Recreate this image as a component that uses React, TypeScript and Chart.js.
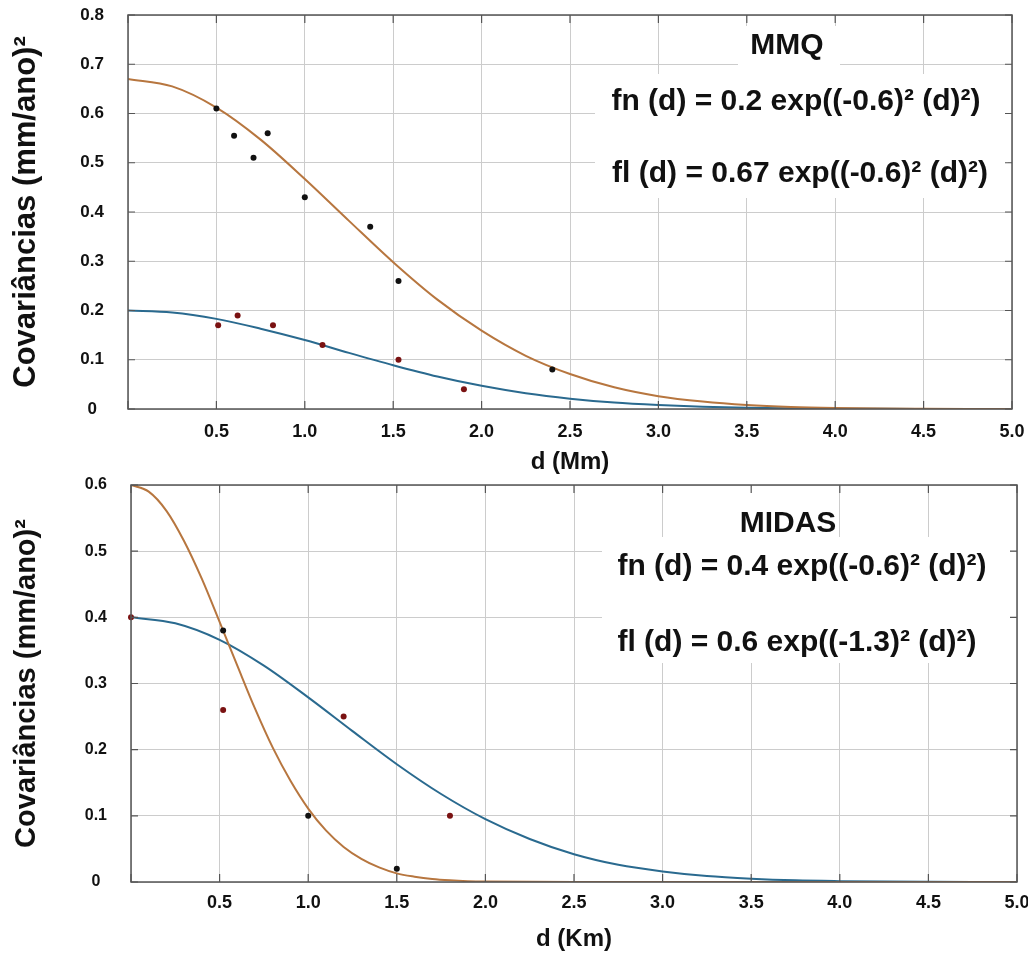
import React, { useEffect, useRef } from 'react';
import { Chart, registerables } from 'chart.js';

Chart.register(...registerables);

const FONT = '"Liberation Sans", Arial, Helvetica, sans-serif';

// ---------- MMQ (top) ----------
const mmqCurveD = [0, 0.25, 0.5, 0.75, 1.0, 1.25, 1.5, 1.75, 2.0, 2.25, 2.5, 2.75, 3.0, 3.25, 3.5, 3.75, 4.0, 4.25, 4.5, 4.75, 5.0];
const mmqFl = [0.670, 0.655, 0.612, 0.547, 0.467, 0.382, 0.298, 0.222, 0.159, 0.108, 0.071, 0.044, 0.026, 0.015, 0.008, 0.004, 0.002, 0.001, 0.0005, 0.0002, 0.0001];
const mmqFn = [0.200, 0.196, 0.183, 0.163, 0.140, 0.114, 0.089, 0.066, 0.047, 0.032, 0.021, 0.013, 0.008, 0.0045, 0.0024, 0.0013, 0.0006, 0.0003, 0.0001, 0.0001, 0];
const mmqBlackD = [0.5, 0.6, 0.71, 0.79, 1.0, 1.37, 1.53, 2.4];
const mmqBlackV = [0.61, 0.555, 0.51, 0.56, 0.43, 0.37, 0.26, 0.08];
const mmqRedD = [0.51, 0.62, 0.82, 1.1, 1.53, 1.9];
const mmqRedV = [0.17, 0.19, 0.17, 0.13, 0.10, 0.04];

// ---------- MIDAS (bottom) ----------
const midasFnD = [0, 0.25, 0.5, 0.75, 1.0, 1.25, 1.5, 1.75, 2.0, 2.25, 2.5, 2.75, 3.0, 3.25, 3.5, 3.75, 4.0, 4.25, 4.5, 4.75, 5.0];
const midasFn = [0.400, 0.391, 0.366, 0.327, 0.279, 0.228, 0.178, 0.133, 0.095, 0.065, 0.042, 0.026, 0.016, 0.009, 0.005, 0.0025, 0.0013, 0.0006, 0.0003, 0.0001, 0];
const midasFlD = [0, 0.1, 0.2, 0.3, 0.4, 0.5, 0.6, 0.7, 0.8, 0.9, 1.0, 1.1, 1.2, 1.3, 1.4, 1.5, 1.6, 1.7, 1.8, 1.9, 2.0, 2.5, 3.0, 3.5, 4.0, 4.5, 5.0];
const midasFl = [0.600, 0.590, 0.561, 0.515, 0.458, 0.393, 0.327, 0.262, 0.203, 0.153, 0.111, 0.078, 0.053, 0.035, 0.022, 0.013, 0.008, 0.0045, 0.0025, 0.0013, 0.0007, 0, 0, 0, 0, 0, 0];
const midasBlackD = [0.52, 1.0, 1.5];
const midasBlackV = [0.38, 0.10, 0.02];
const midasRedD = [0, 0.52, 1.2, 1.8];
const midasRedV = [0.40, 0.26, 0.25, 0.10];

// texts
const yTitle = 'Covariâncias (mm/ano)²';
const mmqXTitle = 'd (Mm)';
const midasXTitle = 'd (Km)';
const mmqNotes = ['MMQ', 'fn (d) = 0.2 exp((-0.6)² (d)²)', 'fl (d) = 0.67 exp((-0.6)² (d)²)'];
const midasNotes = ['MIDAS', 'fn (d) = 0.4 exp((-0.6)² (d)²)', 'fl (d) = 0.6 exp((-1.3)² (d)²)'];

const ORANGE = '#b7763f';
const BLUE = '#2a6a8f';
const BLACK = '#111111';
const DARKRED = '#7a1212';

const zip = (d: number[], v: number[]) => d.map((x, i) => ({ x, y: v[i] }));

type Spec = {
  width: number;
  height: number;
  yMax: number;
  yTickSize: number;
  yTickPad: number;
  yTitleSize: number;
  yTitlePad: number;
  yScaleW: number;
  xScaleH: number;
  xTickPad: number;
  padRight: number;
  xTitle: string;
  lines: { d: number[]; v: number[]; color: string }[];
  points: { d: number[]; v: number[]; color: string }[];
  notes: { text: string; x: number; y: number }[];
  boxes: number[][];
};

function decorPlugin(spec: Spec) {
  return {
    id: 'decor',
    beforeDatasetsDraw(chart: any) {
      const { ctx } = chart;
      ctx.save();
      ctx.fillStyle = '#ffffff';
      spec.boxes.forEach((b) => ctx.fillRect(b[0], b[1], b[2], b[3]));
      ctx.fillStyle = '#111111';
      ctx.font = `bold 30px ${FONT}`;
      ctx.textAlign = 'center';
      ctx.textBaseline = 'middle';
      spec.notes.forEach((n) => ctx.fillText(n.text, n.x, n.y));
      ctx.restore();
    },
    afterDatasetsDraw(chart: any) {
      const { ctx, chartArea: a, scales } = chart;
      ctx.save();
      ctx.strokeStyle = '#555555';
      ctx.lineWidth = 1.5;
      ctx.strokeRect(a.left, a.top, a.right - a.left, a.bottom - a.top);
      ctx.lineWidth = 1.2;
      ctx.beginPath();
      scales.x.ticks.forEach((t: any) => {
        const px = scales.x.getPixelForValue(t.value);
        ctx.moveTo(px, a.bottom);
        ctx.lineTo(px, a.bottom - 8);
        ctx.moveTo(px, a.top);
        ctx.lineTo(px, a.top + 8);
      });
      scales.y.ticks.forEach((t: any) => {
        const py = scales.y.getPixelForValue(t.value);
        ctx.moveTo(a.left, py);
        ctx.lineTo(a.left + 7, py);
        ctx.moveTo(a.right, py);
        ctx.lineTo(a.right - 7, py);
      });
      ctx.stroke();
      ctx.restore();
    },
  };
}

const zeroPad = (s: any) => {
  s.paddingTop = 0;
  s.paddingBottom = 0;
  s.paddingLeft = 0;
  s.paddingRight = 0;
};

function buildConfig(spec: Spec): any {
  const datasets: any[] = [];
  spec.points.forEach((p) => {
    datasets.push({
      data: zip(p.d, p.v),
      showLine: false,
      pointRadius: 3,
      pointBackgroundColor: p.color,
      pointBorderColor: p.color,
      pointBorderWidth: 0,
      clip: false,
    });
  });
  spec.lines.forEach((l) => {
    datasets.push({
      data: zip(l.d, l.v),
      borderColor: l.color,
      borderWidth: 2,
      pointRadius: 0,
      fill: false,
      cubicInterpolationMode: 'monotone',
    });
  });
  return {
    type: 'line',
    data: { datasets },
    options: {
      responsive: false,
      animation: false,
      devicePixelRatio: 1,
      layout: { padding: { top: 15, right: spec.padRight, left: 0, bottom: 0 } },
      plugins: { legend: { display: false }, tooltip: { enabled: false } },
      scales: {
        x: {
          type: 'linear',
          min: 0,
          max: 5,
          afterFit: (s: any) => {
            s.height = spec.xScaleH;
            zeroPad(s);
          },
          grid: { color: '#cccccc', lineWidth: 1, drawTicks: false },
          border: { display: false },
          ticks: {
            stepSize: 0.5,
            autoSkip: false,
            maxRotation: 0,
            padding: spec.xTickPad,
            color: '#111111',
            font: { family: FONT, size: 18, weight: 'bold' },
            callback: (v: number) => (v === 0 ? '' : Number(v).toFixed(1)),
          },
          title: {
            display: true,
            text: spec.xTitle,
            color: '#111111',
            font: { family: FONT, size: 24, weight: 'bold' },
            padding: { top: 0, bottom: 5 },
          },
        },
        y: {
          type: 'linear',
          min: 0,
          max: spec.yMax,
          afterFit: (s: any) => {
            s.width = spec.yScaleW;
            zeroPad(s);
          },
          grid: { color: '#cccccc', lineWidth: 1, drawTicks: false },
          border: { display: false },
          ticks: {
            stepSize: 0.1,
            padding: spec.yTickPad,
            crossAlign: 'center',
            color: '#111111',
            font: { family: FONT, size: spec.yTickSize, weight: 'bold' },
            callback: (v: number) => (Math.abs(v) < 1e-9 ? '0' : Number(v).toFixed(1)),
          },
          title: {
            display: true,
            text: yTitle,
            color: '#111111',
            font: { family: FONT, size: spec.yTitleSize, weight: 'bold' },
            padding: { top: spec.yTitlePad, bottom: 0 },
          },
        },
      },
    },
    plugins: [decorPlugin(spec)],
  };
}

function CovChart({ spec, top }: { spec: Spec; top: number }) {
  const ref = useRef<HTMLCanvasElement | null>(null);
  useEffect(() => {
    if (!ref.current) return;
    const chart = new Chart(ref.current, buildConfig(spec));
    return () => chart.destroy();
  }, [spec]);
  return (
    <canvas
      ref={ref}
      width={spec.width}
      height={spec.height}
      style={{ position: 'absolute', left: 0, top, width: spec.width, height: spec.height, display: 'block' }}
    />
  );
}

const topSpec: Spec = {
  width: 1028,
  height: 482,
  yMax: 0.8,
  yTickSize: 17,
  yTickPad: 24,
  yTitleSize: 31,
  yTitlePad: 8,
  yScaleW: 128,
  xScaleH: 73,
  xTickPad: 12,
  padRight: 16,
  xTitle: mmqXTitle,
  lines: [
    { d: mmqCurveD, v: mmqFl, color: ORANGE },
    { d: mmqCurveD, v: mmqFn, color: BLUE },
  ],
  points: [
    { d: mmqBlackD, v: mmqBlackV, color: BLACK },
    { d: mmqRedD, v: mmqRedV, color: DARKRED },
  ],
  notes: [
    { text: mmqNotes[0], x: 787, y: 46 },
    { text: mmqNotes[1], x: 796, y: 102 },
    { text: mmqNotes[2], x: 800, y: 174 },
  ],
  boxes: [
    [738, 26, 102, 48],
    [595, 74, 413, 124],
  ],
};

const bottomSpec: Spec = {
  width: 1028,
  height: 489,
  yMax: 0.6,
  yTickSize: 16,
  yTickPad: 24,
  yTitleSize: 29,
  yTitlePad: 10,
  yScaleW: 131,
  xScaleH: 77,
  xTickPad: 10,
  padRight: 11,
  xTitle: midasXTitle,
  lines: [
    { d: midasFlD, v: midasFl, color: ORANGE },
    { d: midasFnD, v: midasFn, color: BLUE },
  ],
  points: [
    { d: midasBlackD, v: midasBlackV, color: BLACK },
    { d: midasRedD, v: midasRedV, color: DARKRED },
  ],
  notes: [
    { text: midasNotes[0], x: 788, y: 54 },
    { text: midasNotes[1], x: 802, y: 97 },
    { text: midasNotes[2], x: 797, y: 173 },
  ],
  boxes: [
    [740, 17, 96, 50],
    [602, 67, 408, 126],
  ],
};

export default function App() {
  return (
    <div style={{ position: 'absolute', left: 0, top: 0, width: 1028, height: 959, background: '#ffffff' }}>
      <CovChart spec={topSpec} top={0} />
      <CovChart spec={bottomSpec} top={470} />
    </div>
  );
}
